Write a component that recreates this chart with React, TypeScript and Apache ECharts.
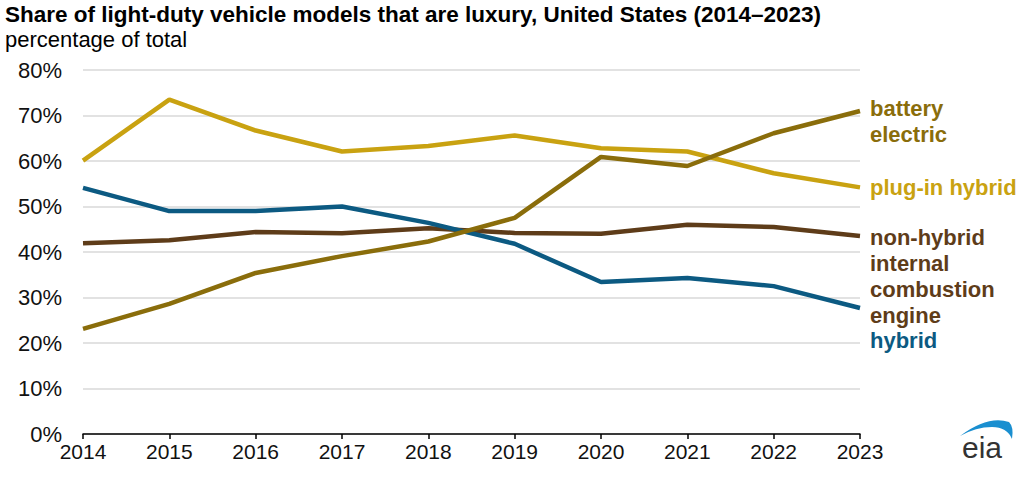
import React, { useEffect, useRef } from "react";
import * as echarts from "echarts";

const years = ["2014", "2015", "2016", "2017", "2018", "2019", "2020", "2021", "2022", "2023"];
const batteryElectric = [23.1, 28.6, 35.4, 39.1, 42.3, 47.5, 60.9, 58.9, 66.1, 71.0];
const plugInHybrid = [60.1, 73.5, 66.7, 62.1, 63.3, 65.6, 62.8, 62.1, 57.3, 54.2];
const nonHybridICE = [41.9, 42.6, 44.4, 44.1, 45.2, 44.2, 44.0, 46.0, 45.5, 43.5];
const hybrid = [54.1, 49.0, 49.0, 50.0, 46.4, 41.8, 33.4, 34.3, 32.5, 27.7];

const colors = {
  battery: "#8a6d0b",
  plugin: "#c9a211",
  ice: "#5e3c19",
  hybrid: "#0c5a82",
};

const seriesDefs = [
  { name: "non-hybrid internal combustion engine", data: nonHybridICE, color: colors.ice },
  { name: "hybrid", data: hybrid, color: colors.hybrid },
  { name: "plug-in hybrid", data: plugInHybrid, color: colors.plugin },
  { name: "battery electric", data: batteryElectric, color: colors.battery },
];

const crescent =
  "M0,15 Q28,-6 49,1 Q54,6 52,18 Q47,6 32,6 Q16,6 0,15 Z";

export default function App() {
  const ref = useRef<HTMLDivElement>(null);
  useEffect(() => {
    if (!ref.current) return;
    try {
      echarts.graphic.registerShape("eiaArc", echarts.graphic.extendPath(crescent, {}));
    } catch (e) {}
    const chart = echarts.init(ref.current, null, { renderer: "svg" });
    const font = "'Liberation Sans', Arial, sans-serif";
    const labelStyle = (color: string) => ({
      fill: color,
      font: `bold 22px ${font}`,
      lineHeight: 26,
      verticalAlign: "middle",
    });
    chart.setOption({
      animation: false,
      backgroundColor: "#ffffff",
      grid: { left: 83, right: 164, top: 70, bottom: 43, containLabel: false },
      xAxis: {
        type: "category",
        data: years,
        boundaryGap: false,
        axisLine: { lineStyle: { color: "#000", width: 1.5 } },
        axisTick: { show: true, length: 5, inside: false, lineStyle: { color: "#000", width: 1.5 } },
        axisLabel: { color: "#111", fontSize: 21, fontFamily: font, margin: 7 },
        splitLine: { show: false },
      },
      yAxis: {
        type: "value",
        min: 0,
        max: 80,
        interval: 10,
        axisLine: { show: false },
        axisTick: { show: false },
        axisLabel: { color: "#111", fontSize: 22, fontFamily: font, margin: 21, formatter: "{value}%" },
        splitLine: { lineStyle: { color: "#d9d9d9", width: 1.5 } },
      },
      series: seriesDefs.map((s) => ({
        name: s.name,
        type: "line",
        data: s.data,
        showSymbol: false,
        symbol: "none",
        lineStyle: { color: s.color, width: 4.5 },
        itemStyle: { color: s.color },
      })),
      graphic: [
        {
          type: "text",
          left: 5,
          top: 3,
          style: {
            text: "Share of light-duty vehicle models that are luxury, United States (2014–2023)",
            fill: "#000",
            font: `bold 22.5px ${font}`,
          },
        },
        {
          type: "text",
          left: 5,
          top: 28,
          style: { text: "percentage of total", fill: "#000", font: `22px ${font}` },
        },
        { type: "text", x: 870, y: 121, style: { text: "battery\nelectric", ...labelStyle(colors.battery) } },
        { type: "text", x: 870, y: 187, style: { text: "plug-in hybrid", ...labelStyle(colors.plugin) } },
        {
          type: "text",
          x: 870,
          y: 276,
          style: { text: "non-hybrid\ninternal\ncombustion\nengine", ...labelStyle(colors.ice) },
        },
        { type: "text", x: 870, y: 340, style: { text: "hybrid", ...labelStyle(colors.hybrid) } },
        {
          type: "eiaArc",
          x: 960,
          y: 421,
          scaleX: 1,
          scaleY: 1,
          style: { fill: "#1a8fd0" },
        },
        {
          type: "text",
          x: 962,
          y: 447,
          style: {
            text: "eia",
            fill: "#333",
            font: `30px ${font}`,
            verticalAlign: "middle",
          },
        },
      ],
    });
    return () => chart.dispose();
  }, []);
  return <div ref={ref} style={{ width: 1024, height: 477, position: "absolute", left: 0, top: 0 }} />;
}
